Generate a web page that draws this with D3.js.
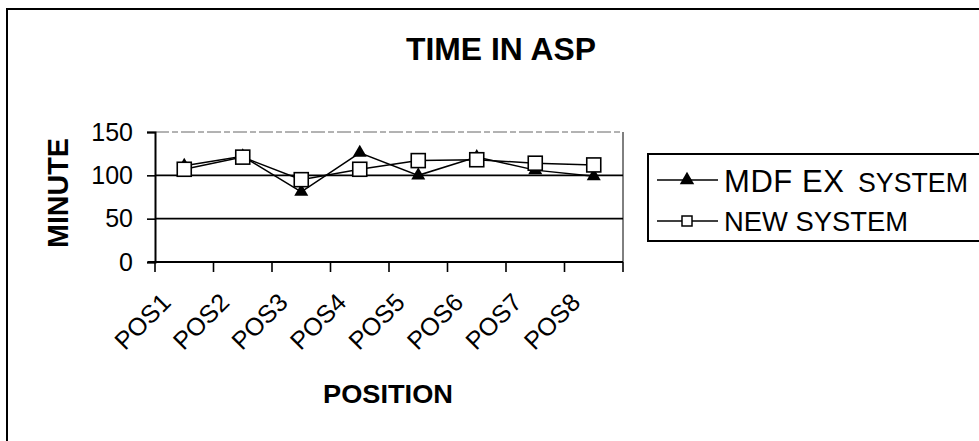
<!DOCTYPE html>
<html><head><meta charset="utf-8">
<script src="https://cdn.jsdelivr.net/npm/d3@7"></script>
<style>body{margin:0;background:#fff}svg{display:block}</style>
</head><body>
<svg id="c" width="979" height="441"></svg>
<script>
const categories = ["POS1","POS2","POS3","POS4","POS5","POS6","POS7","POS8"];
const mdfValues = [111, 122, 81, 126, 100, 121, 106, 99];
const newValues = [107, 121, 95, 107, 117, 118, 114, 112];
const yTicks = [0, 50, 100, 150];
const seriesNames = ["MDF EX SYSTEM", "NEW SYSTEM"];

const svg = d3.select("#c");
const font = "'Liberation Sans', Arial, sans-serif";

// outer border
svg.append("path").attr("d","M7,445 L7,9 L985,9").attr("fill","none").attr("stroke","#000").attr("stroke-width",2);

const x = d3.scaleBand().domain(categories).range([155, 623]).padding(0);
const y = d3.scaleLinear().domain([0,150]).range([262,132]);

// gridlines
const g = svg.append("g");
yTicks.filter(t=>t>0).forEach(t=>{
  g.append("line").attr("x1",155).attr("x2",623).attr("y1",y(t)).attr("y2",y(t))
   .attr("stroke", t===150 ? "#666" : "#000").attr("stroke-width", t===150?1:1.6)
   .attr("stroke-dasharray", t===150 ? "14,3,6,3" : null);
});
// right border of plot
g.append("line").attr("x1",623).attr("x2",623).attr("y1",y(150)).attr("y2",y(0)).attr("stroke","#000").attr("stroke-width",1);

// y axis
const yAxis = d3.axisLeft(y).tickValues(yTicks).tickSize(8).tickPadding(14);
const ya = svg.append("g").attr("transform","translate(155,0)").call(yAxis);
ya.select(".domain").attr("stroke-width",2);
ya.selectAll(".tick line").attr("stroke-width",1.6);
ya.selectAll("text").attr("font-family",font).attr("font-size",25).attr("fill","#000");

// x axis
const xAxis = d3.axisBottom(x).tickSize(0).tickFormat("");
const xa = svg.append("g").attr("transform","translate(0,262)").call(xAxis);
xa.select(".domain").attr("stroke-width",2).attr("d","M148,0H623");
const bounds = categories.map(c=>x(c)).concat([x.range()[1]]);
xa.selectAll(".bt").data(bounds).enter().append("line").attr("class","bt")
  .attr("x1",d=>d).attr("x2",d=>d).attr("y1",0).attr("y2",10).attr("stroke","#000").attr("stroke-width",1.6);
xa.selectAll(".lbl").data(categories).enter().append("text").attr("class","lbl")
  .attr("text-anchor","end").attr("font-family",font).attr("font-size",25).attr("fill","#000")
  .attr("transform",d=>`translate(${x(d)+x.bandwidth()/2-12},${42}) rotate(-45)`)
  .text(d=>d);

// lines
const cx = d=>x(d)+x.bandwidth()/2;
const line = d3.line().x(d=>cx(d[0])).y(d=>y(d[1]));
const mdf = categories.map((c,i)=>[c,mdfValues[i]]);
const nw = categories.map((c,i)=>[c,newValues[i]]);
svg.append("path").attr("d",line(mdf)).attr("fill","none").attr("stroke","#000").attr("stroke-width",1.5);
svg.append("path").attr("d",line(nw)).attr("fill","none").attr("stroke","#000").attr("stroke-width",1.5);
const tri = d3.symbol().type(d3.symbolTriangle).size(85);
svg.selectAll(".tri").data(mdf).enter().append("path").attr("class","tri")
  .attr("d",tri).attr("transform",d=>`translate(${cx(d[0])},${y(d[1])})`).attr("fill","#000");
svg.selectAll(".sq").data(nw).enter().append("rect").attr("class","sq")
  .attr("x",d=>cx(d[0])-7).attr("y",d=>y(d[1])-7).attr("width",14).attr("height",14)
  .attr("fill","#fff").attr("stroke","#000").attr("stroke-width",1.6);

// title
svg.append("text").attr("x",501).attr("y",60).attr("text-anchor","middle")
  .attr("font-family",font).attr("font-weight","bold").attr("font-size",31)
  .attr("textLength",190).attr("lengthAdjust","spacingAndGlyphs").text("TIME IN ASP");

// axis titles
svg.append("text").attr("transform","translate(68,193) rotate(-90)").attr("text-anchor","middle")
  .attr("font-family",font).attr("font-weight","bold").attr("font-size",29)
  .attr("textLength",110).attr("lengthAdjust","spacingAndGlyphs").text("MINUTE");
svg.append("text").attr("x",388).attr("y",403).attr("text-anchor","middle")
  .attr("font-family",font).attr("font-weight","bold").attr("font-size",25)
  .attr("textLength",130).attr("lengthAdjust","spacingAndGlyphs").text("POSITION");

// legend
const lg = svg.append("g");
lg.append("rect").attr("x",648).attr("y",154).attr("width",400).attr("height",87)
  .attr("fill","none").attr("stroke","#000").attr("stroke-width",2);
const ly = [180, 221];
ly.forEach((yy,i)=>{
  lg.append("line").attr("x1",657).attr("x2",718).attr("y1",yy).attr("y2",yy).attr("stroke","#000").attr("stroke-width",1.5);
});
lg.append("path").attr("d",d3.symbol().type(d3.symbolTriangle).size(90)).attr("transform",`translate(687,${ly[0]})`).attr("fill","#000");
lg.append("rect").attr("x",682).attr("y",ly[1]-5).attr("width",10).attr("height",10).attr("fill","#fff").attr("stroke","#000").attr("stroke-width",1.5);
const t1 = lg.append("text").attr("x",724).attr("y",ly[0]+12).attr("font-family",font).attr("font-size",28);
t1.append("tspan").attr("font-size",31).attr("textLength",120).attr("lengthAdjust","spacing").text(seriesNames[0].slice(0,6));
t1.append("tspan").attr("x",858).attr("textLength",110).attr("lengthAdjust","spacingAndGlyphs").text(seriesNames[0].slice(7));
lg.append("text").attr("x",724).attr("y",ly[1]+10).attr("font-family",font).attr("font-size",27)
  .attr("textLength",184).attr("lengthAdjust","spacingAndGlyphs").text(seriesNames[1]);
</script>
</body></html>
